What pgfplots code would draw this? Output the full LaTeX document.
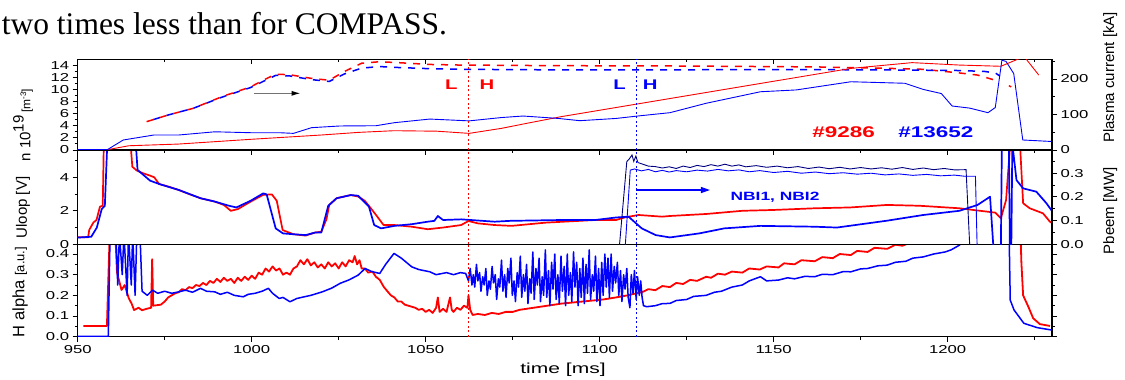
\documentclass[border=0pt]{standalone}
\usepackage{fontspec}
\setmainfont{Liberation Sans}
\newfontfamily\serifhead{Liberation Serif}
\newfontfamily\widesans[FakeStretch=1.45]{Liberation Sans}
\usepackage{pgfplots}
\pgfplotsset{compat=1.18}
\usetikzlibrary{arrows.meta}
\definecolor{navyb}{RGB}{0,0,128}
\newcommand{\tickfont}{\widesans\fontsize{11.5}{13}\selectfont}
\pgfplotsset{
  base/.style={
    scale only axis, width=974.3pt, xmin=950, xmax=1230,
    axis line style={line width=1.1pt},
    major tick length=5pt, minor tick length=3pt,
    tick style={line width=0.9pt, black},
    tick label style={font=\tickfont},
    /pgf/number format/assume math mode=true,
    /pgf/number format/1000 sep={},
    tick align=outside,
    xtick={950,1000,...,1200}, minor xtick={975,1025,...,1225},
    clip=true, anchor=south west,
  },
  upper/.style={xticklabels={}, xtick pos=right, xtick align=inside},
  rightax/.style={axis y line*=right, axis x line=none, ytick pos=right},
}
\begin{document}
\begin{tikzpicture}
\useasboundingbox (-77.7pt,-43.3pt) rectangle (1047.3pt,336.7pt);
\node[anchor=base west, inner sep=0, font=\serifhead\fontsize{31.5}{35}\selectfont] at (-76pt,302.4pt) {two times less than for COMPASS.};

%================ BOTTOM PANEL: H alpha =================
\begin{axis}[base, at={(0pt,0pt)}, height=92.4pt,
  ymin=0, ymax=0.447, ytick={0,0.1,0.2,0.3,0.4}, minor ytick={0.05,0.15,0.25,0.35},
  yticklabel style={/pgf/number format/.cd, fixed, fixed zerofill, precision=1},
  xtick pos=left, ytick pos=both, yticklabel pos=left]
% red H alpha #9286
\addplot[red, line width=1.8pt, line join=round] coordinates {
(951.6,0.052) (958.4,0.052) (959.2,0.5) (960.8,0.5) (961.3,0.31) (962.6,0.226) (963.5,0.25) (964.7,0.185)
(965.5,0.16) (966.2,0.129) (967.5,0.14) (968.5,0.128) (969.8,0.135) (971.1,0.14) (971.4,0.375) (971.7,0.15)
(973.9,0.155) (975,0.17) (976,0.19) (977,0.2) (978,0.21) (979,0.215) (980,0.23) (981,0.225) (982,0.24)
(983,0.235) (984,0.25) (985,0.245) (986,0.26) (987,0.25) (988,0.27) (989,0.26) (990,0.28) (991,0.265)
(992,0.285) (993,0.27) (994,0.28) (995,0.26) (996,0.285) (997,0.27) (998,0.29) (999,0.275) (1000,0.295)
(1001,0.28) (1002,0.31) (1003,0.3) (1004,0.33) (1005,0.315) (1006,0.34) (1007,0.32) (1008,0.33) (1009,0.3)
(1010,0.31) (1011,0.3) (1012,0.33) (1013,0.34) (1014,0.37) (1015,0.35) (1016,0.375) (1017,0.345)
(1018,0.36) (1019,0.335) (1020,0.35) (1021,0.33) (1022,0.36) (1023,0.34) (1024,0.355) (1025,0.33)
(1026,0.36) (1027,0.34) (1028,0.37) (1029,0.36) (1029.6,0.39) (1030.3,0.35) (1031,0.37) (1031.6,0.33)
(1032.5,0.33) (1033.5,0.31) (1034.7,0.315) (1035.7,0.29) (1036.8,0.275) (1038,0.24) (1039,0.22) (1040,0.2)
(1041,0.19) (1042,0.17) (1043,0.17) (1044,0.155) (1045,0.15) (1046,0.145) (1047,0.14) (1048,0.13)
(1049,0.135) (1050,0.12) (1051,0.13) (1052,0.115) (1053,0.14) (1053.5,0.19) (1054,0.12) (1055,0.135)
(1056,0.12) (1057,0.19) (1057.5,0.13) (1058,0.12) (1059,0.14) (1060,0.13) (1061,0.15) (1062,0.14)
(1062.3,0.2) (1062.8,0.13) (1063.5,0.105) (1065,0.11) (1067,0.105) (1069,0.115) (1071,0.11) (1073,0.12)
(1075,0.12) (1077,0.13) (1079,0.135) (1081,0.14) (1083,0.145) (1085,0.15) (1087,0.155) (1089,0.16)
(1092,0.165) (1095,0.17) (1098,0.175) (1101,0.18) (1104.7,0.19) (1108,0.2) (1112.4,0.217)
(1114,0.23) (1116,0.225) (1118,0.245) (1120.2,0.24) (1122,0.26) (1124,0.255) (1126,0.275) (1128,0.27)
(1130.6,0.29) (1132,0.285) (1134,0.305) (1136,0.3) (1138,0.315) (1141,0.31) (1143,0.33) (1146,0.325)
(1148,0.34) (1151.4,0.335) (1153,0.355) (1156,0.35) (1158,0.37) (1161.8,0.365) (1164,0.385) (1167,0.38)
(1169,0.4) (1172.2,0.395) (1174,0.415) (1177,0.41) (1179,0.43) (1182.6,0.425) (1185,0.445) (1187,0.44)
(1190,0.46) (1193,0.47)
(1221.0,0.47) (1221.2,0.36) (1221.7,0.2) (1223.2,0.145) (1224.6,0.089) (1226.5,0.061) (1229.4,0.052)
};
% blue H alpha #13652
\addplot[blue, line width=1.5pt, line join=round] coordinates {
(950,0.002) (958.8,0.002) (959.3,0.5) (961,0.5) (961.5,0.25) (962,0.5) (962.8,0.3) (963.3,0.5)
(964.2,0.2) (964.6,0.5) (965.4,0.25) (965.8,0.5) (966.5,0.2) (967,0.5) (968,0.45) (968.5,0.22)
(970,0.2) (971.5,0.225) (973,0.21) (975,0.22) (977,0.21) (979.1,0.217) (981,0.225) (983,0.215)
(985.3,0.234) (987,0.22) (989.4,0.217) (991,0.205) (993,0.215) (995,0.2) (997.6,0.193) (999,0.205)
(1001,0.21) (1003,0.22) (1004.8,0.234) (1006,0.21) (1007.9,0.185) (1009,0.19) (1011,0.169) (1013,0.185)
(1015.1,0.193) (1017,0.2) (1020.3,0.217) (1023,0.235) (1025.4,0.258) (1028,0.275) (1030.6,0.298)
(1032.6,0.33) (1034.5,0.315) (1036.8,0.306) (1038.5,0.35) (1040.9,0.403) (1043,0.38) (1046,0.338)
(1048,0.325) (1051.2,0.314) (1053,0.3) (1056,0.31) (1058,0.3) (1060,0.31) (1061.5,0.306)
(1062.3,0.27) (1062.8,0.33) (1063.3,0.25) (1063.7,0.3) (1064.1,0.24) (1064.6,0.35) (1065.0,0.27)
(1065.5,0.31) (1065.9,0.22) (1066.4,0.29) (1066.8,0.25) (1067.3,0.33) (1067.7,0.2) (1068.2,0.27)
(1068.6,0.23) (1069.1,0.34) (1069.5,0.26) (1070.0,0.3) (1070.4,0.18) (1070.9,0.28) (1071.3,0.24)
(1071.8,0.37) (1072.2,0.22) (1072.7,0.3) (1073.1,0.19) (1073.6,0.33) (1074.0,0.26) (1074.5,0.38)
(1074.9,0.2) (1075.4,0.27) (1075.8,0.17) (1076.3,0.31) (1076.7,0.24) (1077.2,0.39) (1077.6,0.19)
(1078.1,0.3) (1078.5,0.22) (1079.0,0.35) (1079.4,0.16) (1079.9,0.28) (1080.3,0.21) (1080.8,0.41)
(1081.2,0.18) (1081.7,0.33) (1082.1,0.25) (1082.6,0.38) (1083.0,0.17) (1083.5,0.29) (1083.9,0.2)
(1084.4,0.42) (1084.8,0.19) (1085.3,0.32) (1085.7,0.15) (1086.2,0.36) (1086.6,0.23) (1087.1,0.4)
(1087.5,0.18) (1088.0,0.3) (1088.4,0.16) (1088.9,0.39) (1089.3,0.22) (1089.8,0.34) (1090.2,0.15)
(1090.7,0.4) (1091.1,0.2) (1091.6,0.31) (1092.0,0.17) (1092.5,0.41) (1092.9,0.24) (1093.4,0.36)
(1093.8,0.15) (1094.3,0.33) (1094.7,0.19) (1095.2,0.38) (1095.6,0.16) (1096.1,0.35) (1096.5,0.21)
(1097.0,0.42) (1097.4,0.18) (1097.9,0.3) (1098.3,0.22) (1098.8,0.39) (1099.2,0.17) (1099.7,0.33)
(1100.1,0.15) (1100.6,0.36) (1101.0,0.2) (1101.5,0.4) (1101.9,0.24) (1102.4,0.38) (1102.8,0.19)
(1103.3,0.4) (1103.7,0.22) (1104.2,0.34) (1104.6,0.26) (1105.1,0.36) (1105.5,0.2) (1106.0,0.32)
(1106.4,0.17) (1106.9,0.3) (1107.3,0.23) (1107.8,0.33) (1108.2,0.19) (1108.7,0.14) (1109.1,0.3)
(1109.6,0.21) (1110.0,0.32) (1110.5,0.18) (1110.9,0.29) (1111.4,0.2) (1111.8,0.27) (1112.2,0.19)
(1112.6,0.15) (1113.5,0.145) (1116,0.15) (1118,0.16) (1120.2,0.161) (1122,0.175) (1125,0.18) (1127,0.195)
(1130.6,0.2) (1133,0.215) (1135,0.22) (1138,0.24) (1141,0.25) (1143,0.27) (1146.2,0.29) (1148,0.27)
(1151.4,0.274) (1154,0.285) (1156,0.28) (1159,0.292) (1161.8,0.29) (1164,0.302) (1167,0.3) (1170,0.315)
(1172.2,0.314) (1175,0.328) (1177,0.33) (1180,0.343) (1182.6,0.346) (1185,0.36) (1188,0.365) (1190,0.38)
(1193,0.386) (1196,0.4) (1199.3,0.41) (1201,0.42) (1203.4,0.443) (1205,0.47) (1217.7,0.47)
(1218,0.177) (1219.1,0.129) (1220.5,0.097) (1221.9,0.065) (1225.7,0.044) (1230,0.032)
};
\addplot[red, line width=1.1pt, dash pattern=on 2pt off 2.5pt] coordinates {(1062.3,0) (1062.3,0.447)};
\addplot[blue, line width=1.1pt, dash pattern=on 2pt off 2.5pt] coordinates {(1110.7,0) (1110.7,0.447)};
\end{axis}

%================ MIDDLE PANEL: Uloop / Pbeam =================
\begin{axis}[base, upper, at={(0pt,92.4pt)}, height=94.3pt,
  ymin=0, ymax=5.63, ytick={0,2,4}, minor ytick={1,3,5}, ytick pos=left]
% red Uloop
\addplot[red, line width=1.7pt, line join=round] coordinates {
(950,0.42) (953,0.42) (953.3,0.85) (954.5,1.3) (955.4,1.45) (956.4,2.25) (957.2,2.3) (957.5,6) (965.2,6)
(965.7,4.63) (967,4.4) (968.8,4.24) (970.8,4.1) (972,4.0) (973.4,3.6) (976,3.45) (979.1,3.24) (982,3.0)
(985.3,2.75) (989.4,2.55) (992,2.35) (994,2.0) (996,2.1) (999.7,2.55) (1003.3,2.95) (1005.8,2.98)
(1007.2,2.6) (1008.9,0.85) (1012,0.6) (1015.5,0.52) (1018.2,0.7) (1020,0.75) (1021.5,1.5) (1022.3,2.35)
(1024.4,2.75) (1028.5,2.94) (1030.6,2.85) (1032.5,2.6) (1035,1.95) (1037.9,1.15) (1041,1.15) (1046,1.05)
(1050.6,0.9) (1055,1.0) (1060.2,1.15) (1062.3,1.39) (1065,1.25) (1069.8,1.15) (1074.7,1.1) (1084.3,1.29)
(1098.7,1.45) (1104.7,1.45) (1107.3,1.61) (1111.2,1.75) (1117.9,1.65) (1120.2,1.69) (1130.6,1.81)
(1141,2.0) (1150,2.05) (1161.8,2.15) (1172,2.2) (1182.6,2.35) (1192,2.3) (1203.4,2.15) (1213.7,1.89)
(1215.3,1.55) (1216.8,2.64) (1218,6) (1220.8,6) (1221.7,2.45) (1223.6,2.15) (1227.4,1.85) (1229.4,1.35)
(1230.8,1.15)
};
% blue Uloop
\addplot[blue, line width=1.7pt, line join=round] coordinates {
(950,0.4) (953.9,0.45) (955.5,1.0) (956.9,2.1) (957.8,2.3) (958.5,6) (966.7,6) (967.2,4.44) (970.8,3.8)
(973.4,3.6) (979.1,3.24) (985.3,2.75) (989.4,2.55) (993.5,2.3) (995.6,2.2) (999.7,2.6) (1003.3,3.04)
(1004.3,2.98) (1006.9,0.95) (1009,0.65) (1012,0.6) (1015.5,0.55) (1018.2,0.7) (1020,0.7) (1022,2.3)
(1024.4,2.75) (1028.5,2.94) (1030.6,2.9) (1033.7,2.25) (1035.2,1.15) (1037.2,0.95) (1041,1.1) (1046,1.2)
(1050.6,1.35) (1052.5,1.4) (1053.5,1.69) (1055,1.45) (1060.2,1.49) (1069.8,1.35) (1074.3,1.4)
(1089.1,1.45) (1098.7,1.45) (1104.7,1.6) (1108.3,1.65) (1112.1,0.95) (1116.1,0.55) (1120.2,0.41)
(1128.6,0.65) (1135.8,0.95) (1146.2,1.1) (1161.8,1.05) (1168.2,1.0) (1182.6,1.41) (1193,1.75)
(1203.4,2.0) (1208.6,2.35) (1212.2,2.84) (1213.2,-0.3) (1215.3,-0.3) (1215.6,6) (1217.6,6)
(1217.9,-0.3) (1218.3,-0.3) (1218.6,6) (1219.8,3.83) (1221.7,3.34) (1225.5,3.14) (1228.4,2.45)
(1230.4,1.87)
};
\addplot[red, line width=1.1pt, dash pattern=on 2pt off 2.5pt] coordinates {(1062.3,0) (1062.3,5.63)};
\addplot[blue, line width=1.1pt, dash pattern=on 2pt off 2.5pt] coordinates {(1110.7,0) (1110.7,5.63)};
\draw[blue, line width=1.2pt, -{Triangle[length=9pt,width=6pt]}] (axis cs:1110.4,3.24) -- (axis cs:1131.7,3.24);
\node[blue, font=\widesans\bfseries\fontsize{12}{14}\selectfont] at (axis cs:1150.4,2.8) {NBI1, NBI2};
\end{axis}
\begin{axis}[base, rightax, at={(0pt,92.4pt)}, height=94.3pt,
  ymin=0, ymax=0.398, ytick={0,0.1,0.2,0.3}, minor ytick={0.05,0.15,0.25,0.35},
  yticklabel style={/pgf/number format/.cd, fixed, fixed zerofill, precision=1}]
% NBI1
\addplot[navyb, line width=0.9pt] coordinates {
(1105.6,-0.02) (1107.8,0.349) (1108.5,0.36) (1109.3,0.377) (1109.8,0.35) (1110.4,0.372) (1111,0.345)
(1112,0.34) (1114,0.33) (1116,0.328) (1118,0.322) (1120,0.327) (1122,0.32) (1124,0.33) (1126,0.324)
(1128,0.333) (1130,0.328) (1132,0.336) (1134,0.33) (1136,0.338) (1138,0.33) (1140,0.335) (1142,0.327)
(1145,0.332) (1148,0.325) (1151,0.33) (1154,0.323) (1157,0.328) (1160,0.32) (1163,0.326) (1166,0.319)
(1169,0.325) (1172,0.318) (1175,0.324) (1178,0.318) (1181,0.323) (1184,0.317) (1187,0.324) (1190,0.316)
(1193,0.322) (1196,0.315) (1199,0.32) (1202,0.314) (1205.3,0.315) (1206.4,-0.02)
};
% NBI2
\addplot[blue, line width=0.9pt] coordinates {
(1107.3,-0.02) (1108.8,0.313) (1110,0.318) (1112,0.31) (1114,0.316) (1116,0.306) (1118,0.312)
(1120,0.305) (1122,0.311) (1125,0.306) (1128,0.313) (1131,0.309) (1134,0.316) (1137,0.31) (1140,0.314)
(1143,0.306) (1146,0.311) (1150,0.303) (1154,0.308) (1158,0.3) (1162,0.305) (1166,0.298) (1170,0.302)
(1174,0.296) (1178,0.3) (1182,0.293) (1186,0.297) (1190,0.291) (1194,0.295) (1198,0.289) (1202,0.292)
(1205,0.287) (1208,0.287) (1208.5,-0.02)
};
\end{axis}

%================ TOP PANEL: density / plasma current =================
\begin{axis}[base, upper, at={(0pt,186.7pt)}, height=90.7pt,
  ymin=0, ymax=14.95, ytick={0,2,...,14}, minor ytick={1,3,...,13}, ytick pos=left]
% dashed red
\addplot[red, line width=1.5pt, dash pattern=on 7pt off 7pt] coordinates {
(969.8,4.67) (976,5.77) (983.2,6.87) (991.4,8.78) (999.7,10.4) (1003.3,11.5) (1006.9,12.5) (1011,12.4)
(1017.2,11.8) (1022.3,11.5) (1026.5,12.9) (1031.6,14.3) (1036.8,14.55) (1042,14.4) (1051.2,14.1)
(1060,14.0) (1087,13.9) (1120,13.85) (1161.7,13.7) (1182.6,13.46) (1193,13.3) (1203.4,12.7)
(1208.6,12.35) (1213.7,11.5)
};
\addplot[red, line width=1.5pt] coordinates {(1217.6,10.6) (1218.3,10.4)};
% dashed blue
\addplot[blue, line width=1.5pt, dash pattern=on 7pt off 7pt, dash phase=7pt] coordinates {
(969.8,4.67) (976,5.77) (983.2,6.87) (991.4,8.7) (999.7,10.3) (1003.3,11.3) (1006.9,12.3) (1011,12.2)
(1017.2,11.6) (1022.3,11.3) (1026.5,12.5) (1031.6,13.5) (1036.8,13.75) (1042,13.6) (1051.2,13.4)
(1060,13.3) (1090,13.2) (1160,13.25) (1182.6,13.2) (1203.4,13.1) (1210.6,12.95) (1213.7,12.7)
(1215,12.2)
};
% solid red
\addplot[red, line width=0.9pt] coordinates {
(950,0.05) (958.5,0.05) (964.7,0.7) (979,0.98) (999.7,1.76) (1020,2.47) (1030.6,2.9) (1040.9,3.18)
(1053.2,3.1) (1062.5,2.74) (1071.8,3.57) (1079,4.39) (1089,5.5) (1172.2,13.45) (1189.8,14.4)
(1203.4,14.0) (1215.3,13.8) (1222,15.4) (1226.2,12.35)
};
% solid blue
\addplot[blue, line width=0.9pt] coordinates {
(950,0.05) (958.5,0.05) (963.1,1.65) (971.9,2.47) (979,2.47) (989.4,3.0) (999.7,2.85) (1008,2.85)
(1012,2.74) (1017.2,3.68) (1025.4,3.96) (1035.7,4.0) (1041,4.5) (1051.2,5.1) (1062.5,4.8) (1071.8,5.35)
(1078,5.6) (1088.2,5.2) (1094.3,4.83) (1104.7,5.2) (1110.9,5.6) (1120.2,6.15) (1130.6,7.7) (1146.2,9.6)
(1156.5,9.9) (1172.2,11.25) (1187.7,11.0) (1192.9,10.0) (1198.2,9.3) (1201.3,7.25) (1206.4,6.9)
(1211.6,6.15) (1213.7,7.0) (1215.6,14.8) (1216.8,14.6) (1219,12.6) (1221.6,1.65) (1230,1.4)
};
\addplot[red, line width=1.1pt, dash pattern=on 2pt off 2.5pt] coordinates {(1062.3,0) (1062.3,14.95)};
\addplot[blue, line width=1.1pt, dash pattern=on 2pt off 2.5pt] coordinates {(1110.7,0) (1110.7,14.95)};
\draw[black!55, line width=1.3pt, -{Latex[length=9pt,width=5pt,black]}] (axis cs:1000.7,9.34) -- (axis cs:1014.1,9.34);
\node[red, font=\widesans\bfseries\fontsize{14}{16}\selectfont] at (axis cs:1057.4,10.7) {L};
\node[red, font=\widesans\bfseries\fontsize{14}{16}\selectfont] at (axis cs:1067.6,10.7) {H};
\node[blue, font=\widesans\bfseries\fontsize{14}{16}\selectfont] at (axis cs:1105.7,10.7) {L};
\node[blue, font=\widesans\bfseries\fontsize{14}{16}\selectfont] at (axis cs:1114.5,10.7) {H};
\node[red, font=\widesans\bfseries\fontsize{15.5}{17}\selectfont] at (axis cs:1170.1,3.0) {\#9286};
\node[blue, font=\widesans\bfseries\fontsize{15.5}{17}\selectfont] at (axis cs:1196.6,3.0) {\#13652};
\end{axis}
\begin{axis}[base, rightax, at={(0pt,186.7pt)}, height=90.7pt,
  ymin=0, ymax=255.5, ytick={0,100,200}, minor ytick={50,150,250}]
\end{axis}

% axis labels
\node[rotate=90, font=\fontsize{15}{17}\selectfont] at (-54.7pt,211.7pt) {n 10\raisebox{0.45em}{19}\,{\fontsize{12}{13}\selectfont[m\textsuperscript{-3}]}};
\node[rotate=90, font=\fontsize{15}{17}\selectfont] at (-54.7pt,129.2pt) {Uloop [V]};
\node[rotate=90, font=\fontsize{16.5}{18}\selectfont] at (-57.7pt,44.7pt) {H alpha {\fontsize{13}{15}\selectfont[a.u.]}};
\node[rotate=90, font=\fontsize{15}{17}\selectfont] at (1032.6pt,259.2pt) {Plasma current [kA]};
\node[rotate=90, font=\fontsize{15}{17}\selectfont] at (1032.6pt,125.7pt) {Pbeem [MW]};
\node[font=\widesans\fontsize{14.5}{16}\selectfont] at (485.3pt,-33.3pt) {time [ms]};
\end{tikzpicture}
\end{document}
